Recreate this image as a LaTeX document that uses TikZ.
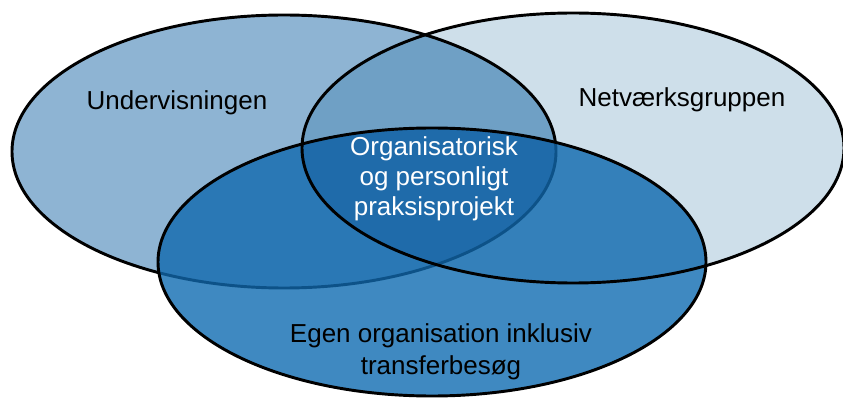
\documentclass[tikz,border=0pt]{standalone}
\usepackage{fontspec}
\setmainfont{Liberation Sans}
\definecolor{USteel}{HTML}{8EB4D3}
\definecolor{NPale}{HTML}{CEDFEA}
\definecolor{UNMid}{HTML}{6FA0C5}
\definecolor{EBlue}{HTML}{3F89C1}
\definecolor{UEDeep}{HTML}{2A78B5}
\definecolor{NEDeep}{HTML}{3480BA}
\definecolor{ONavy}{HTML}{1F6BAA}
\definecolor{EEdge}{HTML}{0D5288}
\tikzset{
    ring/.style = {draw=black, line width=2.2pt},
    innerring/.style = {draw=EEdge, line width=2.2pt},
    venntext/.style = {font=\fontsize{19.5}{22.5}\selectfont, align=center, inner sep=0pt}
}
\begin{document}
\begin{tikzpicture}[x=0.75pt,y=-0.75pt]
        \useasboundingbox (0,0) rectangle (843,399);
        % fills of the three sets and their overlaps
        \fill[USteel] (284,151.5) ellipse (272 and 136.5);
        \fill[NPale] (573,148) ellipse (271 and 135);
        \begin{scope}
            \clip (284,151.5) ellipse (272 and 136.5);
            \fill[UNMid] (573,148) ellipse (271 and 135);
        \end{scope}
        \draw[ring] (284,151.5) ellipse (272 and 136.5);
        \fill[EBlue] (432,262) ellipse (274 and 134);
        \begin{scope}
            \clip (432,262) ellipse (274 and 134);
            \fill[UEDeep] (284,151.5) ellipse (272 and 136.5);
            \fill[NEDeep] (573,148) ellipse (271 and 135);
            \clip (284,151.5) ellipse (272 and 136.5);
            \fill[ONavy] (573,148) ellipse (271 and 135);
        \end{scope}
        \begin{scope}
            \clip (432,262) ellipse (274 and 134);
            \draw[innerring] (284,151.5) ellipse (272 and 136.5);
        \end{scope}
        \draw[ring] (432,262) ellipse (274 and 134);
        \draw[ring] (573,148) ellipse (271 and 135);
        % labels
        \node[venntext] (undervis) at (177,103) {Undervisningen};
        \node[venntext] (netvaerk) at (682,100) {Netværksgruppen};
        \node[venntext,text=white] (praksis) at (434,179) {Organisatorisk\\og personligt\\praksisprojekt};
        \node[venntext,font=\fontsize{19.5}{24}\selectfont] (egen) at (441,352) {Egen organisation inklusiv\\transferbesøg};
\end{tikzpicture}
\end{document}
